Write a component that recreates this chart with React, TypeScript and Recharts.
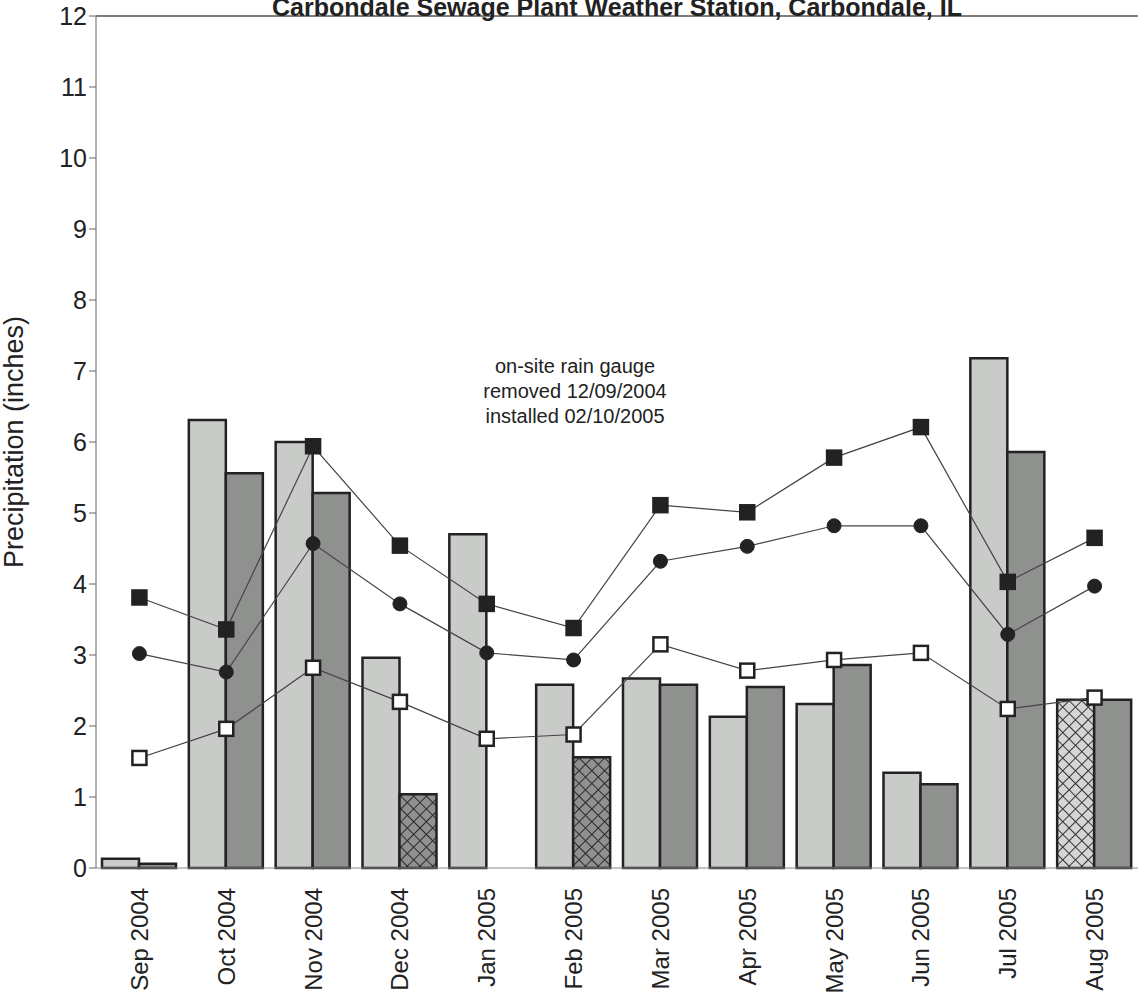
import { ComposedChart, Bar, Line, XAxis, YAxis, Cell, ReferenceLine } from 'recharts';

const months = ['Sep 2004', 'Oct 2004', 'Nov 2004', 'Dec 2004', 'Jan 2005', 'Feb 2005', 'Mar 2005', 'Apr 2005', 'May 2005', 'Jun 2005', 'Jul 2005', 'Aug 2005'];
const onSite = [0.13, 6.31, 6.0, 2.96, 4.7, 2.58, 2.67, 2.13, 2.31, 1.34, 7.18, 2.37];
const station = [0.06, 5.56, 5.28, 1.04, null, 1.56, 2.58, 2.55, 2.86, 1.18, 5.86, 2.37];
const wetYear = [3.81, 3.36, 5.94, 4.54, 3.72, 3.38, 5.11, 5.01, 5.78, 6.21, 4.03, 4.65];
const normal = [3.02, 2.76, 4.57, 3.72, 3.03, 2.93, 4.32, 4.53, 4.82, 4.82, 3.29, 3.97];
const dryYear = [1.55, 1.96, 2.82, 2.34, 1.82, 1.88, 3.15, 2.78, 2.93, 3.03, 2.24, 2.40];
const yTicks = [0, 1, 2, 3, 4, 5, 6, 7, 8, 9, 10, 11, 12];
// months where a bar was estimated (hatched)
const hatchedOnSite = ['Aug 2005'];
const hatchedStation = ['Dec 2004', 'Feb 2005'];

const data = months.map((m, i) => ({
  month: m,
  onSite: onSite[i],
  station: station[i],
  wetYear: wetYear[i],
  normal: normal[i],
  dryYear: dryYear[i],
}));

const FONT = '"Liberation Sans", Arial, sans-serif';
const LIGHT = '#c9cbc8';
const DARK = '#8e918e';

const XTick = ({ x, y, payload }: any) => (
  <text
    x={x}
    y={y + 12}
    transform={`rotate(-90 ${x} ${y + 12})`}
    textAnchor="end"
    dominantBaseline="central"
    fontFamily={FONT}
    fontSize={24}
    fill="#222"
  >
    {payload.value}
  </text>
);

const square = (fill: string) => (props: any) => {
  const { cx, cy, index } = props;
  if (cx == null || cy == null) return <g key={index} />;
  return <rect key={index} x={cx - 7} y={cy - 7} width={14} height={14} fill={fill} stroke="#222" strokeWidth={2.5} />;
};

const App = () => {
  return (
    <div style={{ position: 'absolute', left: 0, top: 0, width: 1138, height: 999, background: '#fff', overflow: 'hidden' }}>
      <ComposedChart width={1138} height={999} data={data} margin={{ top: 16, right: 0, left: 0, bottom: 0 }} barCategoryGap={6} barGap={0}>
        <defs>
          <pattern id="hatchDark" width="9" height="9" patternUnits="userSpaceOnUse" patternTransform="rotate(45)">
            <rect width="9" height="9" fill={DARK} />
            <path d="M0 0 L0 9 M0 0 L9 0" stroke="#2a2a2a" strokeWidth="2" />
          </pattern>
          <pattern id="hatchLight" width="9" height="9" patternUnits="userSpaceOnUse" patternTransform="rotate(45)">
            <rect width="9" height="9" fill="#d4d6d3" />
            <path d="M0 0 L0 9 M0 0 L9 0" stroke="#333" strokeWidth="2" />
          </pattern>
        </defs>
        <XAxis
          dataKey="month"
          interval={0}
          tickLine={false}
          axisLine={{ stroke: '#888' }}
          height={131}
          tick={<XTick />}
        />
        <YAxis
          domain={[0, 12]}
          ticks={yTicks}
          width={96}
          tickSize={7}
          axisLine={{ stroke: '#666' }}
          tickLine={{ stroke: '#666' }}
          tick={{ fontSize: 25, fill: '#222', fontFamily: FONT }}
          label={{ value: 'Precipitation (inches)', angle: -90, position: 'insideLeft', dx: 8, style: { fontSize: 27, fill: '#222', fontFamily: FONT, textAnchor: 'middle' } }}
        />
        <ReferenceLine y={12} stroke="#555" strokeWidth={1.5} />
        <Bar dataKey="onSite" fill={LIGHT} stroke="#222" strokeWidth={2.5} isAnimationActive={false}>
          {data.map((d, i) => (
            <Cell key={`on-${i}`} fill={hatchedOnSite.includes(d.month) ? 'url(#hatchLight)' : LIGHT} />
          ))}
        </Bar>
        <Bar dataKey="station" fill={DARK} stroke="#222" strokeWidth={2.5} isAnimationActive={false}>
          {data.map((d, i) => (
            <Cell key={`st-${i}`} fill={hatchedStation.includes(d.month) ? 'url(#hatchDark)' : DARK} />
          ))}
        </Bar>
        <Line dataKey="wetYear" stroke="#444" strokeWidth={1.2} dot={square('#222')} isAnimationActive={false} />
        <Line dataKey="normal" stroke="#444" strokeWidth={1.2} dot={{ r: 7, fill: '#222', stroke: '#222', strokeWidth: 1 }} isAnimationActive={false} />
        <Line dataKey="dryYear" stroke="#444" strokeWidth={1.2} dot={square('#fff')} isAnimationActive={false} />
      </ComposedChart>
      <div style={{ position: 'absolute', left: 96, width: 1042, top: -6, lineHeight: '26px', textAlign: 'center', fontFamily: FONT, fontWeight: 'bold', fontSize: 25, color: '#222', whiteSpace: 'nowrap' }}>
        Carbondale Sewage Plant Weather Station, Carbondale, IL
      </div>
      <div style={{ position: 'absolute', left: 425, width: 300, top: 354, textAlign: 'center', fontFamily: FONT, fontSize: 20, lineHeight: '25px', color: '#222' }}>
        on-site rain gauge<br />removed 12/09/2004<br />installed 02/10/2005
      </div>
    </div>
  );
};

export default App;
